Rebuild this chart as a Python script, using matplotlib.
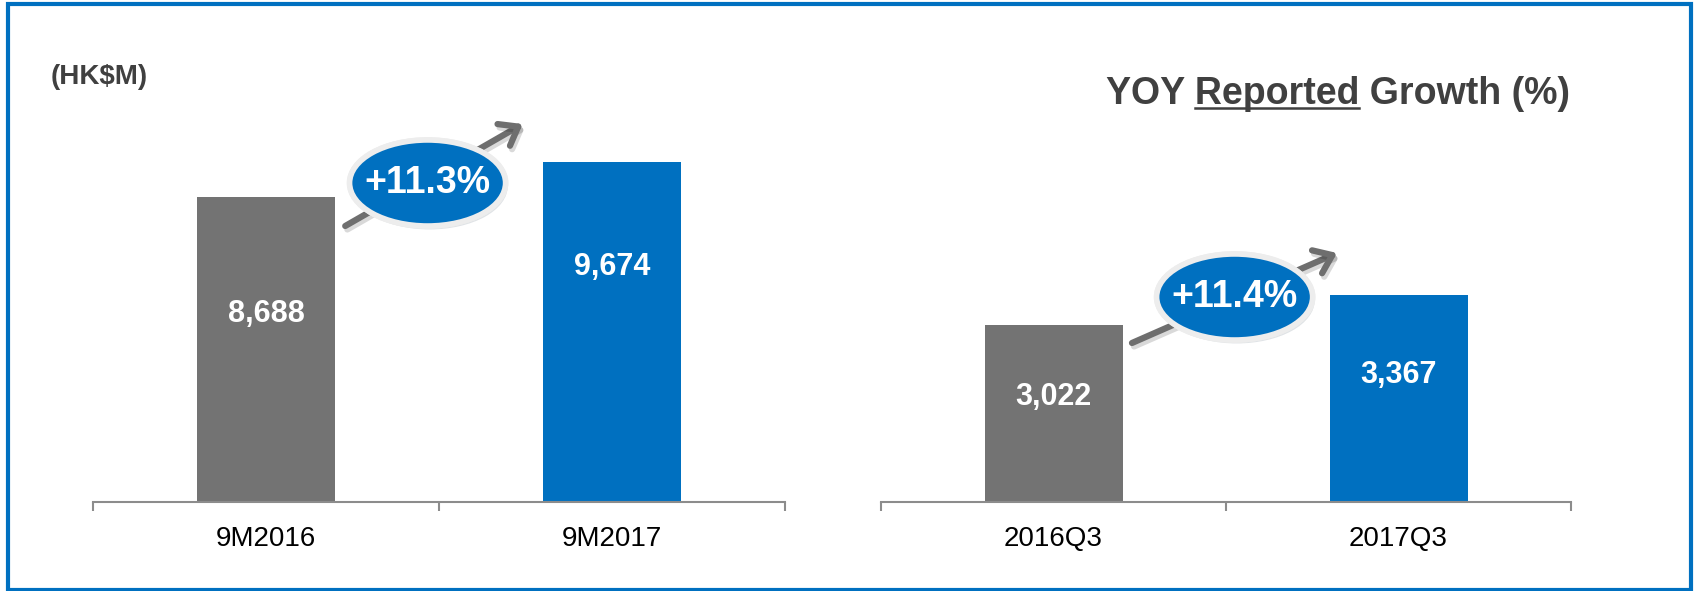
import numpy as np
import matplotlib.pyplot as plt
import matplotlib.patheffects as pe
from matplotlib.patches import Ellipse, Rectangle
from matplotlib.lines import Line2D
from matplotlib.transforms import ScaledTranslation

# Revenue (HK$M)
cats_9m = ['9M2016', '9M2017']
vals_9m = [8688, 9674]
cats_q3 = ['2016Q3', '2017Q3']
vals_q3 = [3022, 3367]

GREY = '#737373'
BLUE = '#0070C0'
DARK = '#404040'
AXIS = '#8C8C8C'

plt.rcParams['font.family'] = ['Liberation Sans', 'DejaVu Sans']

W, H = 1694, 591
fig = plt.figure(figsize=(W / 100, H / 100), dpi=100)


def px(x, y):
    # pixel position (from top-left) -> figure fraction
    return x / W, 1 - y / H


def draw_panel(rect, cats, vals, ylim, label_frac, bubble_xy, arrow_from, arrow_to):
    ax = fig.add_axes(rect)
    x = np.arange(len(cats))
    ax.bar(x, vals, width=0.4, color=[GREY, BLUE], zorder=2)
    ax.set_xlim(-0.5, len(cats) - 0.5)
    ax.set_ylim(*ylim)
    for s in ['left', 'right', 'top']:
        ax.spines[s].set_visible(False)
    ax.spines['bottom'].set_color(AXIS)
    ax.spines['bottom'].set_linewidth(1.5)
    ax.spines['bottom'].set_zorder(3)
    ax.set_yticks([])
    ax.set_xticks(x)
    ax.set_xticklabels(cats)
    ax.set_xticks(np.arange(len(cats) + 1) - 0.5, minor=True)
    ax.tick_params(axis='x', which='major', length=0, pad=17, labelsize=20, labelcolor='black')
    ax.tick_params(axis='x', which='minor', length=6.5, width=1.5, color=AXIS, direction='out')
    for i, v in enumerate(vals):
        ax.text(i, v * label_frac[i], f'{v:,}', ha='center', va='center',
                color='white', fontsize=22, fontweight='bold', zorder=4)

    # growth arrow + bubble
    ann = ax.annotate('', xy=arrow_to, xytext=arrow_from,
                      arrowprops=dict(arrowstyle='->,head_length=0.6,head_width=0.45',
                                      lw=4.5, color='#6E6E6E', shrinkA=0, shrinkB=0,
                                      mutation_scale=20),
                      annotation_clip=False, zorder=5)
    ann.arrow_patch.set_path_effects([pe.SimpleLineShadow(offset=(1.5, -2.5), alpha=0.15),
                                      pe.Normal()])
    growth = (vals[1] / vals[0] - 1) * 100
    tr = fig.dpi_scale_trans + ScaledTranslation(bubble_xy[0], bubble_xy[1], ax.transData)
    ell = Ellipse((0, 0), 1.56, 0.86, transform=tr, facecolor=BLUE, edgecolor='#EDEDED',
                  lw=4, zorder=6, clip_on=False)
    ell.set_path_effects([pe.withSimplePatchShadow(offset=(1.5, -2.5), alpha=0.12), pe.Normal()])
    ax.add_patch(ell)
    ax.text(bubble_xy[0], bubble_xy[1], f'+{growth:.1f}%', ha='center', va='center',
            color='white', fontsize=27, fontweight='bold', zorder=7)
    return ax


l, b = px(93, 502)
draw_panel([l, b, 692 / W, 462 / H], cats_9m, vals_9m, (0, 13160), [0.616, 0.691],
           (0.467, 9087), (0.229, 7862), (0.742, 10767))
l, b = px(881, 502)
draw_panel([l, b, 690 / W, 462 / H], cats_q3, vals_q3, (986, 6300), [0.725, 0.727],
           (0.525, 3344), (0.2275, 2815), (0.822, 3850))

fig.text(*px(51, 77), '(HK$M)', ha='left', va='center', fontsize=20,
         fontweight='bold', color=DARK)

# title with "Reported" underlined
title_kw = dict(fontsize=27, fontweight='bold', color=DARK, va='baseline', ha='left')
renderer = fig.canvas.get_renderer()


def text_w(s):
    t = fig.text(0, 0, s, **title_kw)
    w = t.get_window_extent(renderer).width
    t.remove()
    return w


full = 'YOY Reported Growth (%)'
w_full = text_w(full)
start = 1338 - w_full / 2
u0 = start + text_w('YOY R') - text_w('R')
u1 = u0 + text_w('Reported')
fig.text(*px(start, 104), full, **title_kw)
fig.lines.append(Line2D([u0 / W, u1 / W], [1 - 108 / H] * 2, transform=fig.transFigure,
                        color=DARK, lw=1.8))

# blue frame
x0, y0 = px(8, 589.5)
x1, y1 = px(1691, 4)
fig.patches.append(Rectangle((x0, y0), x1 - x0, y1 - y0, transform=fig.transFigure,
                             fill=False, edgecolor=BLUE, lw=3, zorder=10))

fig.savefig('out.png', dpi=100)
